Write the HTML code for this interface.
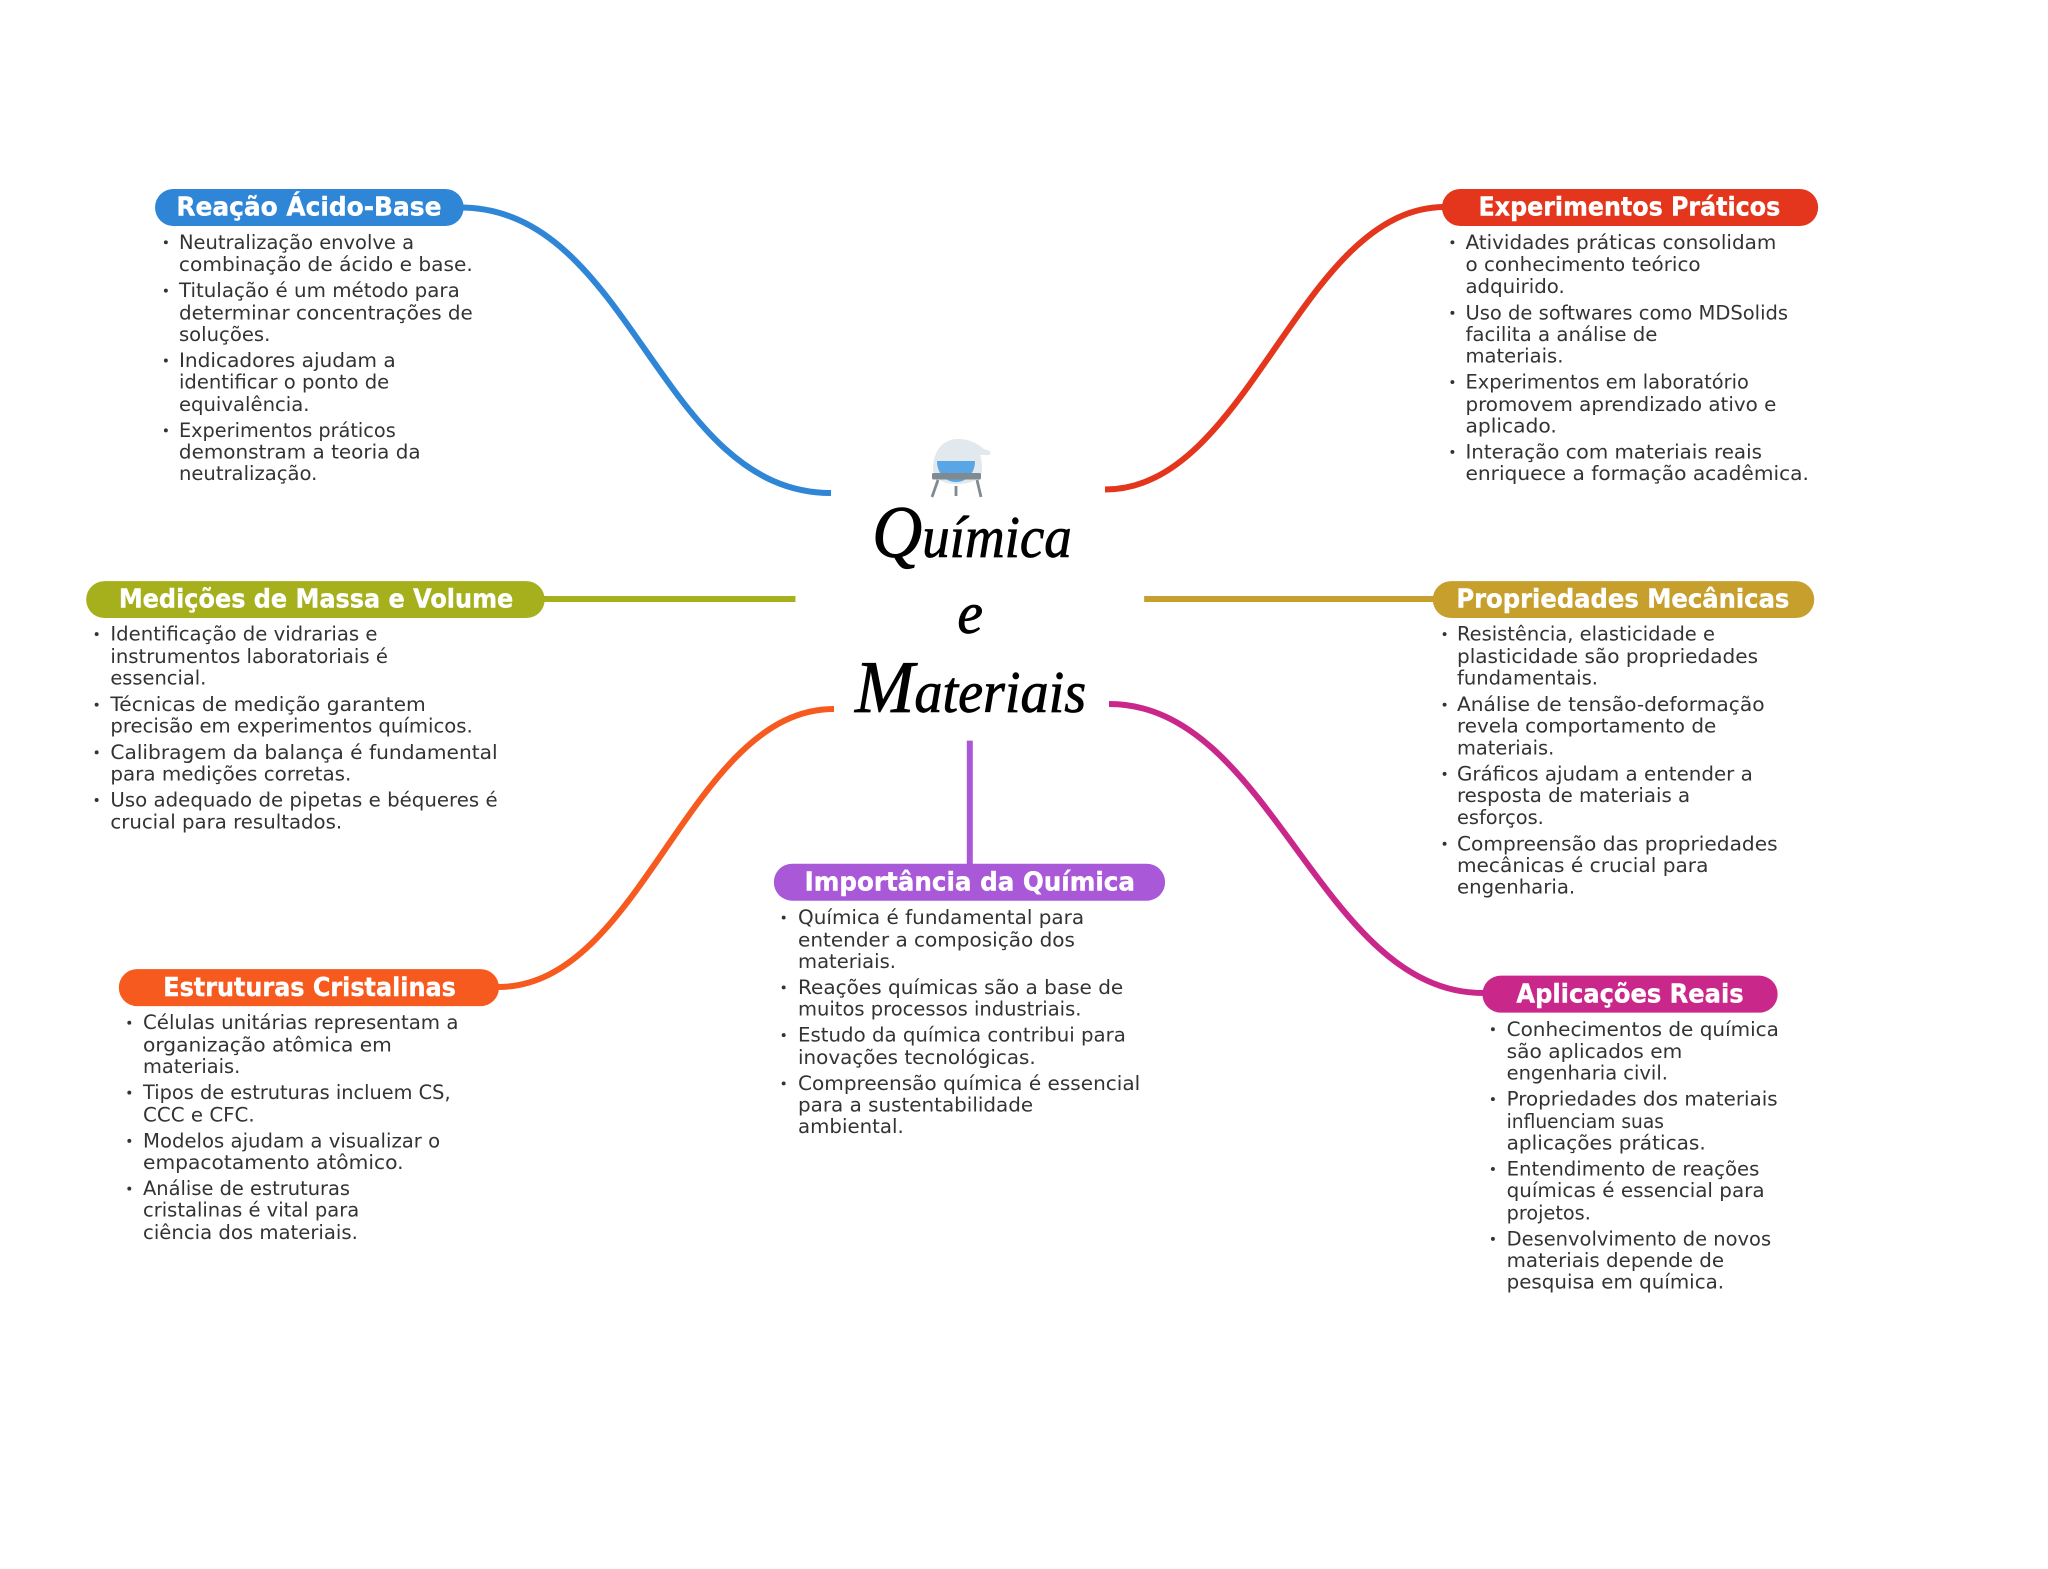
<!DOCTYPE html>
<html><head><meta charset="utf-8"><title>Química e Materiais</title>
<style>
html,body{margin:0;padding:0;background:#fff}
svg{display:block}
.t{font-family:"DejaVu Sans","Liberation Sans",sans-serif;font-size:15.2px;fill:#333}
.h{font-family:"DejaVu Sans","Liberation Sans",sans-serif;font-size:20px;font-weight:700;fill:#fff;stroke:#fff;stroke-width:.3}
.s{font-family:"Liberation Serif",serif;font-style:italic;font-size:45px;fill:#000;stroke:#000;stroke-width:.6}
.b{font-size:57px}
</style></head><body>
<svg xmlns="http://www.w3.org/2000/svg" width="2048" height="1569" viewBox="0 0 2048 1569">
<rect width="2048" height="1569" fill="#fff"/>
<!-- flask icon -->
<g>
<path d="M933 470C933 448 945 439 958 439C970 439 978 444 984 449L990 451Q991 454 989 455L980 455C982 460 982 465 982 472C980 480 970 484 957 484C944 484 935 480 933 470Z" fill="#e1e8ee"/>
<path d="M937 461H975C975 473 967 482 956 482C945 482 937 473 937 461Z" fill="#58a6e6"/>
<rect x="932" y="473" width="49" height="6.500" rx="1.500" fill="#7f8a93"/>
<path d="M938 480L932 497M977 480L981 497M956 486V496" stroke="#7f8a93" stroke-width="2.800" fill="none"/>
</g>
<!-- curved connectors -->
<g fill="none" stroke-width="6">
<path d="M460 207.500C632 207.500 659 493 831 493" stroke="#2f86d6"/>
<path d="M1105 489.500C1250 489.500 1300 207 1445 207" stroke="#e4361c"/>
<path d="M834 709C689 709 643 987 498 987" stroke="#f75a1e"/>
<path d="M1109 704C1272 704 1320 993 1483 993" stroke="#c9288a"/>
</g>
<g transform="scale(1.30612)">
<g fill="none" stroke-width="4.600">
<path d="M415 458.600H609" stroke="#a5b01c"/>
<path d="M876 458.600H1099" stroke="#c69f2d"/>
<path d="M742.500 567V663" stroke="#a958d8"/>
</g>
<!-- pills -->
<rect x="118.700" y="144.700" width="236.300" height="28.300" rx="14" fill="#2f86d6"/>
<rect x="1104" y="144.700" width="288" height="28.300" rx="14" fill="#e4361c"/>
<rect x="66" y="444.900" width="351" height="28.300" rx="14" fill="#a5b01c"/>
<rect x="1097" y="444.900" width="292" height="28.300" rx="14" fill="#c69f2d"/>
<rect x="91" y="742" width="291" height="28.300" rx="14" fill="#f75a1e"/>
<rect x="592.500" y="661.300" width="299.500" height="28.300" rx="14" fill="#a958d8"/>
<rect x="1135" y="747" width="226" height="28.300" rx="14" fill="#c9288a"/>
<!-- pill titles -->
<g class="h">
<text x="135" y="165.100" textLength="203" lengthAdjust="spacingAndGlyphs">Reação Ácido-Base</text>
<text x="1132" y="165.100" textLength="231" lengthAdjust="spacingAndGlyphs">Experimentos Práticos</text>
<text x="91" y="465.300" textLength="302" lengthAdjust="spacingAndGlyphs">Medições de Massa e Volume</text>
<text x="1115" y="465.300" textLength="255" lengthAdjust="spacingAndGlyphs">Propriedades Mecânicas</text>
<text x="125" y="762.400" textLength="224" lengthAdjust="spacingAndGlyphs">Estruturas Cristalinas</text>
<text x="616" y="681.700" textLength="253" lengthAdjust="spacingAndGlyphs">Importância da Química</text>
<text x="1161" y="767.400" textLength="174" lengthAdjust="spacingAndGlyphs">Aplicações Reais</text>
</g>
<!-- central title -->
<g class="s">
<text x="667.600" y="426.500" textLength="153" lengthAdjust="spacingAndGlyphs"><tspan class="b">Q</tspan>uímica</text>
<text x="733" y="484.700" textLength="19.600" lengthAdjust="spacingAndGlyphs">e</text>
<text x="654.600" y="545" textLength="177" lengthAdjust="spacingAndGlyphs"><tspan class="b">M</tspan>ateriais</text>
</g>
<!-- bullets -->
<g fill="#333">
<circle cx="127" cy="185.500" r="1.500"/><circle cx="127" cy="222.500" r="1.500"/><circle cx="127" cy="276" r="1.500"/><circle cx="127" cy="329.500" r="1.500"/>
<circle cx="1112" cy="185.500" r="1.500"/><circle cx="1112" cy="239.500" r="1.500"/><circle cx="1112" cy="292.500" r="1.500"/><circle cx="1112" cy="346" r="1.500"/>
<circle cx="74" cy="485.500" r="1.500"/><circle cx="74" cy="539.500" r="1.500"/><circle cx="74" cy="576" r="1.500"/><circle cx="74" cy="612.500" r="1.500"/>
<circle cx="1106" cy="485.500" r="1.500"/><circle cx="1106" cy="539.500" r="1.500"/><circle cx="1106" cy="592.500" r="1.500"/><circle cx="1106" cy="646" r="1.500"/>
<circle cx="99" cy="783" r="1.500"/><circle cx="99" cy="836.500" r="1.500"/><circle cx="99" cy="873.500" r="1.500"/><circle cx="99" cy="910" r="1.500"/>
<circle cx="600" cy="702.500" r="1.500"/><circle cx="600" cy="756" r="1.500"/><circle cx="600" cy="792.500" r="1.500"/><circle cx="600" cy="829.500" r="1.500"/>
<circle cx="1143" cy="788" r="1.500"/><circle cx="1143" cy="841.500" r="1.500"/><circle cx="1143" cy="895" r="1.500"/><circle cx="1143" cy="948.500" r="1.500"/>
</g>
<g class="t">
<!-- Reação -->
<text x="137" y="190.500" textLength="180" lengthAdjust="spacingAndGlyphs">Neutralização envolve a</text>
<text x="137" y="207.500" textLength="225" lengthAdjust="spacingAndGlyphs">combinação de ácido e base.</text>
<text x="137" y="227.500" textLength="215" lengthAdjust="spacingAndGlyphs">Titulação é um método para</text>
<text x="137" y="244.500" textLength="225" lengthAdjust="spacingAndGlyphs">determinar concentrações de</text>
<text x="137" y="261" textLength="70" lengthAdjust="spacingAndGlyphs">soluções.</text>
<text x="137" y="281" textLength="166" lengthAdjust="spacingAndGlyphs">Indicadores ajudam a</text>
<text x="137" y="297.500" textLength="161" lengthAdjust="spacingAndGlyphs">identificar o ponto de</text>
<text x="137" y="314.500" textLength="100" lengthAdjust="spacingAndGlyphs">equivalência.</text>
<text x="137" y="334.500" textLength="166" lengthAdjust="spacingAndGlyphs">Experimentos práticos</text>
<text x="137" y="351" textLength="185" lengthAdjust="spacingAndGlyphs">demonstram a teoria da</text>
<text x="137" y="367.500" textLength="106" lengthAdjust="spacingAndGlyphs">neutralização.</text>
<!-- Experimentos -->
<text x="1122" y="190.500" textLength="238" lengthAdjust="spacingAndGlyphs">Atividades práticas consolidam</text>
<text x="1122" y="207.500" textLength="180" lengthAdjust="spacingAndGlyphs">o conhecimento teórico</text>
<text x="1122" y="224.500" textLength="76" lengthAdjust="spacingAndGlyphs">adquirido.</text>
<text x="1122" y="244.500" textLength="247" lengthAdjust="spacingAndGlyphs">Uso de softwares como MDSolids</text>
<text x="1122" y="261" textLength="147" lengthAdjust="spacingAndGlyphs">facilita a análise de</text>
<text x="1122" y="277.500" textLength="75" lengthAdjust="spacingAndGlyphs">materiais.</text>
<text x="1122" y="297.500" textLength="217" lengthAdjust="spacingAndGlyphs">Experimentos em laboratório</text>
<text x="1122" y="314.500" textLength="238" lengthAdjust="spacingAndGlyphs">promovem aprendizado ativo e</text>
<text x="1122" y="331" textLength="70" lengthAdjust="spacingAndGlyphs">aplicado.</text>
<text x="1122" y="351" textLength="227" lengthAdjust="spacingAndGlyphs">Interação com materiais reais</text>
<text x="1122" y="367.500" textLength="263" lengthAdjust="spacingAndGlyphs">enriquece a formação acadêmica.</text>
<!-- Medições -->
<text x="84.500" y="490.500" textLength="204.500" lengthAdjust="spacingAndGlyphs">Identificação de vidrarias e</text>
<text x="84.500" y="507.500" textLength="212.500" lengthAdjust="spacingAndGlyphs">instrumentos laboratoriais é</text>
<text x="84.500" y="524" textLength="73.500" lengthAdjust="spacingAndGlyphs">essencial.</text>
<text x="84.500" y="544.500" textLength="241.500" lengthAdjust="spacingAndGlyphs">Técnicas de medição garantem</text>
<text x="84.500" y="561" textLength="277.500" lengthAdjust="spacingAndGlyphs">precisão em experimentos químicos.</text>
<text x="84.500" y="581" textLength="296.500" lengthAdjust="spacingAndGlyphs">Calibragem da balança é fundamental</text>
<text x="84.500" y="597.500" textLength="184.500" lengthAdjust="spacingAndGlyphs">para medições corretas.</text>
<text x="84.500" y="617.500" textLength="296.500" lengthAdjust="spacingAndGlyphs">Uso adequado de pipetas e béqueres é</text>
<text x="84.500" y="634.500" textLength="177.500" lengthAdjust="spacingAndGlyphs">crucial para resultados.</text>
<!-- Propriedades -->
<text x="1115.500" y="490.500" textLength="197.500" lengthAdjust="spacingAndGlyphs">Resistência, elasticidade e</text>
<text x="1115.500" y="507.500" textLength="230.500" lengthAdjust="spacingAndGlyphs">plasticidade são propriedades</text>
<text x="1115.500" y="524" textLength="108" lengthAdjust="spacingAndGlyphs">fundamentais.</text>
<text x="1115.500" y="544.500" textLength="235.500" lengthAdjust="spacingAndGlyphs">Análise de tensão-deformação</text>
<text x="1115.500" y="561" textLength="198.500" lengthAdjust="spacingAndGlyphs">revela comportamento de</text>
<text x="1115.500" y="577.500" textLength="74.500" lengthAdjust="spacingAndGlyphs">materiais.</text>
<text x="1115.500" y="597.500" textLength="226.500" lengthAdjust="spacingAndGlyphs">Gráficos ajudam a entender a</text>
<text x="1115.500" y="614" textLength="178.500" lengthAdjust="spacingAndGlyphs">resposta de materiais a</text>
<text x="1115.500" y="631" textLength="66.500" lengthAdjust="spacingAndGlyphs">esforços.</text>
<text x="1115.500" y="651" textLength="245.500" lengthAdjust="spacingAndGlyphs">Compreensão das propriedades</text>
<text x="1115.500" y="667.500" textLength="192.500" lengthAdjust="spacingAndGlyphs">mecânicas é crucial para</text>
<text x="1115.500" y="684" textLength="90.500" lengthAdjust="spacingAndGlyphs">engenharia.</text>
<!-- Estruturas -->
<text x="109.500" y="788" textLength="241.500" lengthAdjust="spacingAndGlyphs">Células unitárias representam a</text>
<text x="109.500" y="805" textLength="190.500" lengthAdjust="spacingAndGlyphs">organização atômica em</text>
<text x="109.500" y="821.500" textLength="74.500" lengthAdjust="spacingAndGlyphs">materiais.</text>
<text x="109.500" y="841.500" textLength="235.500" lengthAdjust="spacingAndGlyphs">Tipos de estruturas incluem CS,</text>
<text x="109.500" y="858.500" textLength="85.500" lengthAdjust="spacingAndGlyphs">CCC e CFC.</text>
<text x="109.500" y="878.500" textLength="227.500" lengthAdjust="spacingAndGlyphs">Modelos ajudam a visualizar o</text>
<text x="109.500" y="895" textLength="199.500" lengthAdjust="spacingAndGlyphs">empacotamento atômico.</text>
<text x="109.500" y="915" textLength="158.500" lengthAdjust="spacingAndGlyphs">Análise de estruturas</text>
<text x="109.500" y="931.500" textLength="165.500" lengthAdjust="spacingAndGlyphs">cristalinas é vital para</text>
<text x="109.500" y="948.500" textLength="164.500" lengthAdjust="spacingAndGlyphs">ciência dos materiais.</text>
<!-- Importância -->
<text x="611" y="707.500" textLength="219" lengthAdjust="spacingAndGlyphs">Química é fundamental para</text>
<text x="611" y="724.500" textLength="212" lengthAdjust="spacingAndGlyphs">entender a composição dos</text>
<text x="611" y="741" textLength="75" lengthAdjust="spacingAndGlyphs">materiais.</text>
<text x="611" y="761" textLength="249" lengthAdjust="spacingAndGlyphs">Reações químicas são a base de</text>
<text x="611" y="777.500" textLength="217" lengthAdjust="spacingAndGlyphs">muitos processos industriais.</text>
<text x="611" y="797.500" textLength="251" lengthAdjust="spacingAndGlyphs">Estudo da química contribui para</text>
<text x="611" y="814.500" textLength="182" lengthAdjust="spacingAndGlyphs">inovações tecnológicas.</text>
<text x="611" y="834.500" textLength="262" lengthAdjust="spacingAndGlyphs">Compreensão química é essencial</text>
<text x="611" y="851" textLength="180" lengthAdjust="spacingAndGlyphs">para a sustentabilidade</text>
<text x="611" y="867.500" textLength="81" lengthAdjust="spacingAndGlyphs">ambiental.</text>
<!-- Aplicações -->
<text x="1153.500" y="793" textLength="208.500" lengthAdjust="spacingAndGlyphs">Conhecimentos de química</text>
<text x="1153.500" y="810" textLength="134.500" lengthAdjust="spacingAndGlyphs">são aplicados em</text>
<text x="1153.500" y="826.500" textLength="123.500" lengthAdjust="spacingAndGlyphs">engenharia civil.</text>
<text x="1153.500" y="846.500" textLength="207.500" lengthAdjust="spacingAndGlyphs">Propriedades dos materiais</text>
<text x="1153.500" y="863.500" textLength="120.500" lengthAdjust="spacingAndGlyphs">influenciam suas</text>
<text x="1153.500" y="880" textLength="152.500" lengthAdjust="spacingAndGlyphs">aplicações práticas.</text>
<text x="1153.500" y="900" textLength="193.500" lengthAdjust="spacingAndGlyphs">Entendimento de reações</text>
<text x="1153.500" y="916.500" textLength="197.500" lengthAdjust="spacingAndGlyphs">químicas é essencial para</text>
<text x="1153.500" y="933.500" textLength="64.500" lengthAdjust="spacingAndGlyphs">projetos.</text>
<text x="1153.500" y="953.500" textLength="202.500" lengthAdjust="spacingAndGlyphs">Desenvolvimento de novos</text>
<text x="1153.500" y="970" textLength="166.500" lengthAdjust="spacingAndGlyphs">materiais depende de</text>
<text x="1153.500" y="986.500" textLength="166.500" lengthAdjust="spacingAndGlyphs">pesquisa em química.</text>
</g>
</g>
</svg>
</body></html>
